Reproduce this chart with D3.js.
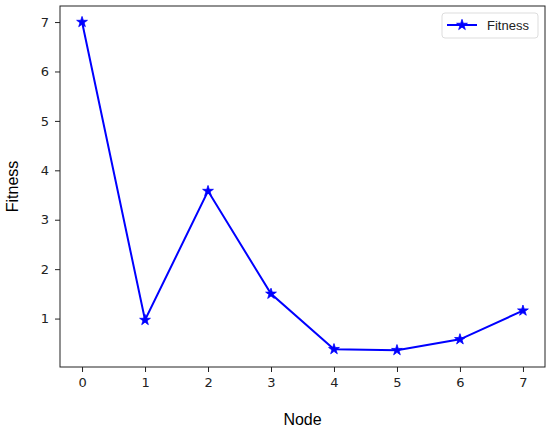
<!DOCTYPE html>
<html>
<meta charset="utf-8"/>
<head>
  <style>
    body { margin: 0; background: #fff; }
    .tick text { font-family: "DejaVu Sans", sans-serif; font-size: 13px; fill: #222; }
    .tick line { stroke: #222; }
    .label { font-family: "Liberation Sans", Arial, sans-serif; font-size: 16px; fill: #000; }
  </style>
</head>
<body>
<svg width="550" height="431"></svg>
<script src="https://d3js.org/d3.v7.min.js"></script>
<script>
var nodes = [0, 1, 2, 3, 4, 5, 6, 7];
var fitness = [7.0, 0.97, 3.58, 1.5, 0.38, 0.36, 0.58, 1.16];
var xTicks = [0, 1, 2, 3, 4, 5, 6, 7];
var yTicks = [1, 2, 3, 4, 5, 6, 7];

var svg = d3.select("svg");
// plot area edges (don't use "top", it clashes with window.top)
var pLeft = 60, pRight = 545, pTop = 6, pBottom = 367;

var x = d3.scaleLinear().domain([-0.35, 7.35]).range([pLeft, pRight]);
var y = d3.scaleLinear().domain([0.02, 7.325]).range([pBottom, pTop]);

// frame
svg.append("rect")
  .attr("x", pLeft).attr("y", pTop)
  .attr("width", pRight - pLeft).attr("height", pBottom - pTop)
  .attr("fill", "none").attr("stroke", "#222").attr("stroke-width", 1);

svg.append("g")
  .attr("transform", "translate(0," + pBottom + ")")
  .call(d3.axisBottom(x).tickValues(xTicks).tickSize(5).tickPadding(6).tickFormat(d3.format("d")))
  .call(g => g.select(".domain").remove());

svg.append("g")
  .attr("transform", "translate(" + pLeft + ",0)")
  .call(d3.axisLeft(y).tickValues(yTicks).tickSize(5).tickPadding(6).tickFormat(d3.format("d")))
  .call(g => g.select(".domain").remove());

var line = d3.line()
  .x((d, i) => x(nodes[i]))
  .y(d => y(d));

svg.append("path")
  .datum(fitness)
  .attr("d", line)
  .attr("fill", "none")
  .attr("stroke", "#0000ff")
  .attr("stroke-width", 2);

var star = d3.symbol().type(d3.symbolStar).size(36);
svg.selectAll(".pt")
  .data(fitness)
  .enter().append("path")
  .attr("class", "pt")
  .attr("d", star)
  .attr("transform", (d, i) => "translate(" + x(nodes[i]) + "," + y(d) + ")")
  .attr("fill", "#0000ff")
  .attr("stroke", "#0000ff").attr("stroke-width", 0.8);

// axis labels
svg.append("text").attr("class", "label")
  .attr("x", (pLeft + pRight) / 2).attr("y", 425)
  .attr("text-anchor", "middle").text("Node");

svg.append("text").attr("class", "label")
  .attr("transform", "translate(18," + (pTop + pBottom) / 2 + ") rotate(-90)")
  .attr("text-anchor", "middle").text("Fitness");

// legend
var lg = svg.append("g");
lg.append("rect")
  .attr("x", 442).attr("y", 13).attr("width", 96).attr("height", 25).attr("rx", 3)
  .attr("fill", "#fff").attr("stroke", "#ddd");
lg.append("line")
  .attr("x1", 447).attr("x2", 477).attr("y1", 25).attr("y2", 25)
  .attr("stroke", "#0000ff").attr("stroke-width", 2);
lg.append("path")
  .attr("d", star)
  .attr("transform", "translate(462,25)")
  .attr("fill", "#0000ff")
  .attr("stroke", "#0000ff").attr("stroke-width", 0.8);
lg.append("text")
  .attr("x", 487).attr("y", 30)
  .style("font-family", "Liberation Sans, Arial, sans-serif")
  .style("font-size", "13px")
  .attr("fill", "#222")
  .text("Fitness");
</script>
</body>
</html>
